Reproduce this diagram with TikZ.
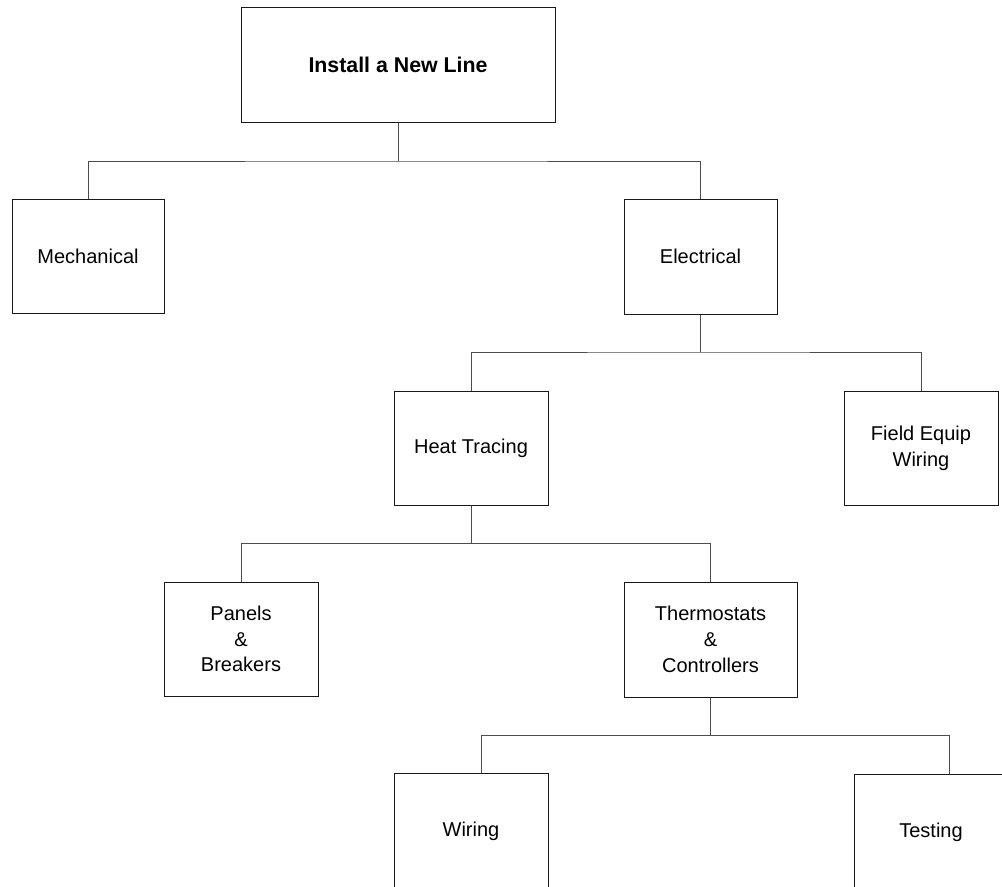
\documentclass[tikz,border=0pt]{standalone}
\usepackage{fontspec}
\setmainfont{Liberation Sans}
\usetikzlibrary{calc}
\begin{document}
\begin{tikzpicture}[x=0.75pt,y=-0.75pt,
  box/.style={draw=black!90,line width=0.75pt,fill=white,rectangle,inner sep=0pt,
    align=center,font=\fontsize{15}{19.3}\selectfont},
  size/.style 2 args={minimum width=#1*0.75pt,minimum height=#2*0.75pt},
  conn/.style={draw=black!70,line width=0.75pt}]
\clip (0,0) rectangle (1002,886);
\fill[white] (0,0) rectangle (1002,886);

% boxes (centre, width x height in px)
\node[box,size={314}{115},font=\bfseries\fontsize{16}{19.3}\selectfont] (root) at (398,64.5) {Install a New Line};
\node[box,size={152}{114}] (mech) at (88,256) {Mechanical};
\node[box,size={153}{115}] (elec) at (700.5,256.5) {Electrical};
\node[box,size={154}{114}] (heat) at (471,448) {Heat Tracing};
\node[box,size={154}{114}] (field) at (921,448) {Field Equip\\Wiring};
\node[box,size={154}{114}] (panels) at (241,639) {Panels\\\&\\Breakers};
\node[box,size={173}{115}] (thermo) at (710.5,639.5) {Thermostats\\\&\\Controllers};
\node[box,size={154}{116}] (wiring) at (471,831) {Wiring};
\node[box,size={154}{116}] (testing) at (931,832) {Testing};

% junction points on the buses
\coordinate (b1) at (398,161);
\coordinate (b2) at (700.5,352);
\coordinate (b3) at (471,543);
\coordinate (b4) at (710.5,735);

% connectors
\draw[conn] (root.south) -- (b1);
\draw[conn] (mech.north) |- (b1) -| (elec.north);
\draw[conn] (elec.south) -- (b2);
\draw[conn] (heat.north) |- (b2) -| (field.north);
\draw[conn] (heat.south) -- (b3);
\draw[conn] (panels.north) |- (b3) -| (thermo.north);
\draw[conn] (thermo.south) -- (b4);
\draw[conn] ($(wiring.north)+(10,0)$) |- (b4) -| ($(testing.north)+(18,0)$);
\end{tikzpicture}
\end{document}
